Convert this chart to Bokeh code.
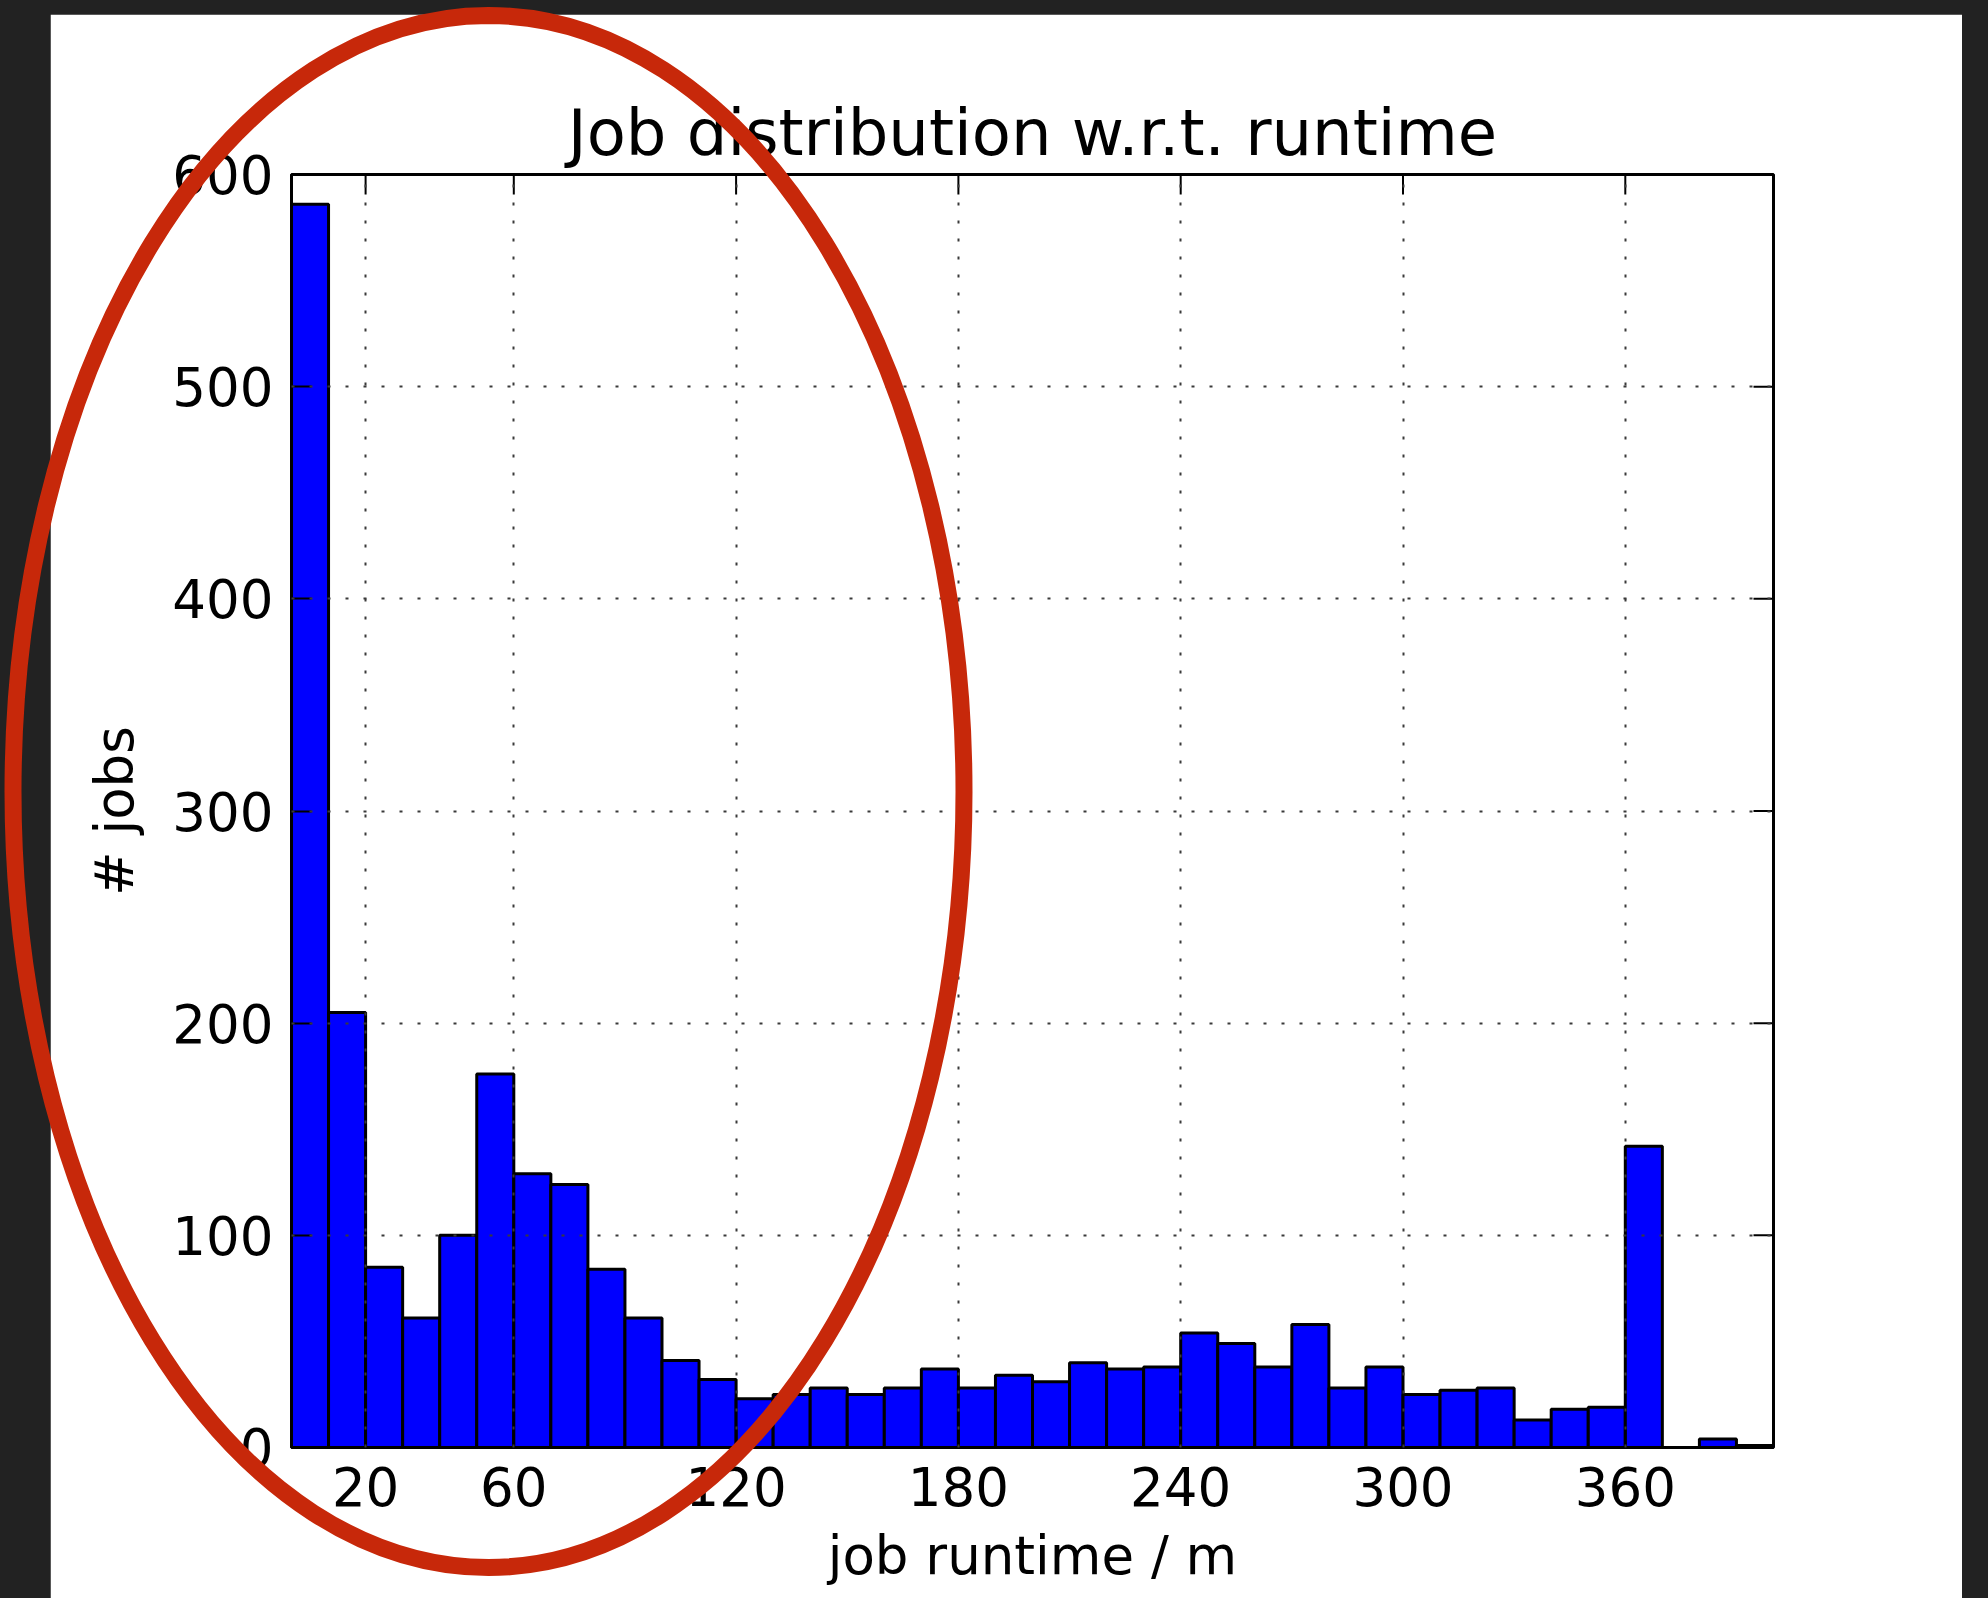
from bokeh.plotting import figure
from bokeh.layouts import column
from bokeh.models import FixedTicker, Range1d, GlobalInlineStyleSheet
from bokeh.embed import file_html
from bokeh.resources import INLINE

# ---- data ----
bin_left = [0, 10, 20, 30, 40, 50, 60, 70, 80, 90,
            100, 110, 120, 130, 140, 150, 160, 170, 180, 190,
            200, 210, 220, 230, 240, 250, 260, 270, 280, 290,
            300, 310, 320, 330, 340, 350, 360, 370, 380, 390]
bin_right = [b + 10 for b in bin_left]
job_counts = [586, 205, 85, 61, 100, 176, 129, 124, 84, 61,
              41, 32, 23, 25, 28, 25, 28, 37, 28, 34,
              31, 40, 37, 38, 54, 49, 38, 58, 28, 38,
              25, 27, 28, 13, 18, 19, 142, 0, 4, 1]
x_ticks = [20, 60, 120, 180, 240, 300, 360]
y_ticks = [0, 100, 200, 300, 400, 500, 600]
X_MIN, X_MAX = 0, 400
Y_MIN, Y_MAX = 0, 600

FONT = "DejaVu Sans"
TICK_PX = "53px"
TITLE_PX = "64px"
FRAME_W, FRAME_H = 1482, 1273
BORDER_LEFT = 241
TICK_LEN = 20

chart = figure(frame_width=FRAME_W, frame_height=FRAME_H,
               min_border_left=BORDER_LEFT, min_border_right=189,
               min_border_top=160, min_border_bottom=151,
               x_range=Range1d(X_MIN, X_MAX), y_range=Range1d(Y_MIN, Y_MAX),
               title="Job distribution w.r.t. runtime",
               x_axis_label="job runtime / m", y_axis_label="# jobs",
               output_backend="svg", toolbar_location=None,
               margin=(14, 0, 0, 50))
chart.border_fill_color = "white"
chart.background_fill_color = "white"
chart.outline_line_color = "black"
chart.outline_line_width = 3

chart.quad(left=bin_left, right=bin_right, bottom=0, top=job_counts,
           fill_color="#0000ff", line_color="black", line_width=3)

for ax in (chart.xaxis[0], chart.yaxis[0]):
    ax.major_tick_in = TICK_LEN
    ax.major_tick_out = 0
    ax.minor_tick_line_color = None
    ax.major_tick_line_color = "black"
    ax.major_tick_line_width = 2
    ax.axis_line_color = "black"
    ax.axis_line_width = 3
    ax.major_label_text_font = FONT
    ax.major_label_text_font_size = TICK_PX
    ax.major_label_text_color = "black"
    ax.axis_label_text_font = FONT
    ax.axis_label_text_font_size = TICK_PX
    ax.axis_label_text_font_style = "normal"
    ax.axis_label_text_color = "black"

chart.xaxis[0].ticker = FixedTicker(ticks=x_ticks)
chart.yaxis[0].ticker = FixedTicker(ticks=y_ticks)
chart.xaxis[0].major_label_standoff = 19
chart.xaxis[0].axis_label_standoff = 16
chart.yaxis[0].major_label_standoff = 18
chart.yaxis[0].axis_label_standoff = 24

# inward ticks on the top and right edges (classic style)
top_len = TICK_LEN * (Y_MAX - Y_MIN) / FRAME_H
right_len = TICK_LEN * (X_MAX - X_MIN) / FRAME_W
chart.segment(x0=x_ticks, y0=[Y_MAX] * len(x_ticks),
              x1=x_ticks, y1=[Y_MAX - top_len] * len(x_ticks),
              line_color="black", line_width=2)
chart.segment(x0=[X_MAX] * len(y_ticks), y0=y_ticks,
              x1=[X_MAX - right_len] * len(y_ticks), y1=y_ticks,
              line_color="black", line_width=2)

chart.xgrid.ticker = FixedTicker(ticks=x_ticks)
chart.ygrid.ticker = FixedTicker(ticks=y_ticks)
chart.grid.grid_line_color = "#3a3a3a"
chart.grid.grid_line_width = 2
chart.grid.grid_line_dash = "3 15"
chart.grid.level = "annotation"

chart.title.text_font = FONT
chart.title.text_font_size = TITLE_PX
chart.title.text_font_style = "normal"
chart.title.text_color = "black"
chart.title.align = "center"
chart.title.standoff = 10

# transparent overlay carrying the red highlight ellipse drawn over the picture.
# The column aligns plot frames, so the overlay inherits the chart's left border;
# a negative left margin brings its frame back to the page's left edge.
OVL_W, OVL_H = 1300, 1598
overlay = figure(frame_width=OVL_W, frame_height=OVL_H,
                 x_range=Range1d(0, OVL_W), y_range=Range1d(OVL_H, 0),
                 x_axis_type=None, y_axis_type=None, title_location=None,
                 min_border=0, output_backend="svg", toolbar_location=None,
                 margin=(-OVL_H, 0, 0, -BORDER_LEFT))
overlay.border_fill_color = None
overlay.background_fill_color = None
overlay.outline_line_color = None
overlay.ellipse(x=488, y=791, width=951, height=1552,
                fill_color=None, line_color="#c7280a", line_width=17)

page = column(chart, overlay, stylesheets=[GlobalInlineStyleSheet(
    css="html, body { margin: 0 !important; padding: 0 !important; "
        "background-color: #222222 !important; overflow: hidden; }")])

open("out.html", "w").write(file_html(page, INLINE))
